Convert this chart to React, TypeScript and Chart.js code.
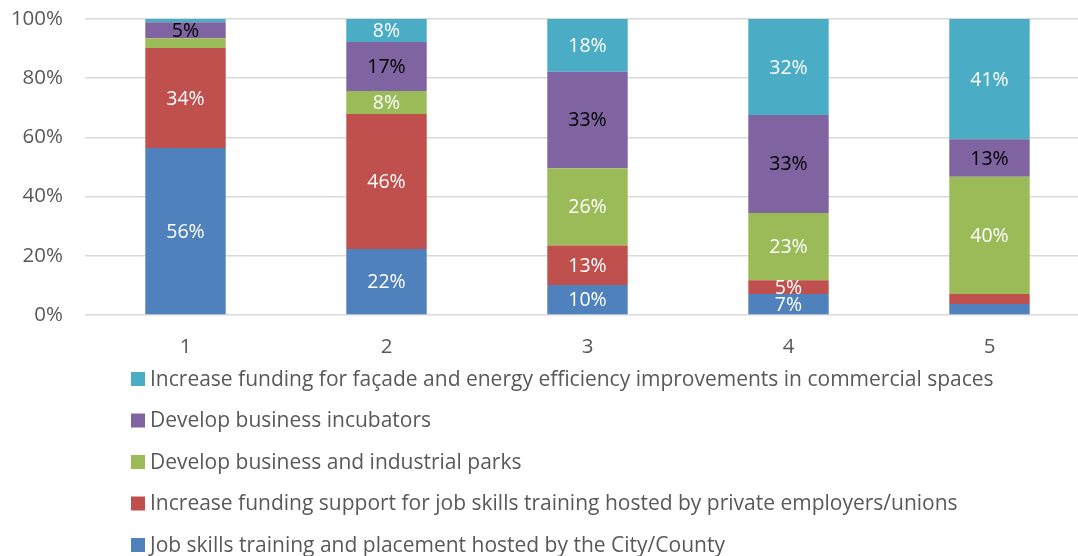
import React, { useEffect, useRef } from "react";
import { Chart, registerables } from "chart.js";

Chart.register(...registerables);

const categories = ["1", "2", "3", "4", "5"];
const jobSkillsCity = [56.4, 22.3, 10.1, 7.1, 3.7];
const fundingPrivate = [33.8, 45.6, 13.4, 4.6, 3.4];
const businessParks = [3.3, 7.8, 26.1, 22.8, 39.6];
const incubators = [5.4, 16.5, 32.6, 33.1, 12.7];
const facade = [1.1, 7.8, 17.8, 32.4, 40.6];
const yTicks = [0, 20, 40, 60, 80, 100];

const seriesNames = [
  "Job skills training and placement hosted by the City/County",
  "Increase funding support for job skills training hosted by private employers/unions",
  "Develop business and industrial parks",
  "Develop business incubators",
  "Increase funding for façade and energy efficiency improvements in commercial spaces",
];
const seriesColors = ["#4F81BD", "#C0504D", "#9BBB59", "#8064A2", "#4BACC6"];
const labelColors = ["#FFFFFF", "#FFFFFF", "#FFFFFF", "#000000", "#FFFFFF"];

const FONT = "'Open Sans', sans-serif";
const TEXT_GRAY = "#595959";

const dataLabelPlugin = {
  id: "dataLabels",
  afterDatasetsDraw(chart: any) {
    const ctx = chart.ctx;
    ctx.save();
    ctx.font = `19.5px ${FONT}`;
    ctx.textAlign = "center";
    ctx.textBaseline = "middle";
    chart.data.datasets.forEach((ds: any, di: number) => {
      const meta = chart.getDatasetMeta(di);
      meta.data.forEach((bar: any, i: number) => {
        const v = ds.data[i];
        if (v < 4) return;
        const y = (bar.y + bar.base) / 2;
        ctx.fillStyle = labelColors[di];
        ctx.fillText(Math.round(v) + "%", bar.x, y + 1);
      });
    });
    ctx.restore();
  },
};

const legendPlugin = {
  id: "stackLegend",
  afterDraw(chart: any) {
    const ctx = chart.ctx;
    ctx.save();
    ctx.font = `21px ${FONT}`;
    ctx.textAlign = "left";
    ctx.textBaseline = "middle";
    const ds = chart.data.datasets;
    const startY = 379;
    const step = 41.5;
    for (let k = 0; k < ds.length; k++) {
      const di = ds.length - 1 - k;
      const y = startY + k * step;
      ctx.fillStyle = ds[di].backgroundColor;
      ctx.fillRect(131, y - 7, 14, 14);
      ctx.fillStyle = TEXT_GRAY;
      ctx.fillText(ds[di].label, 150, y + 1);
    }
    ctx.restore();
  },
};

export default function App() {
  const ref = useRef<HTMLCanvasElement>(null);
  useEffect(() => {
    if (!ref.current) return;
    const seriesData = [jobSkillsCity, fundingPrivate, businessParks, incubators, facade];
    const chart = new Chart(ref.current, {
      type: "bar",
      data: {
        labels: categories,
        datasets: seriesData.map((d, i) => ({
          label: seriesNames[i],
          data: d,
          backgroundColor: seriesColors[i],
          borderWidth: 0,
          barPercentage: 0.4,
          categoryPercentage: 1,
        })),
      },
      options: {
        animation: false,
        responsive: false,
        maintainAspectRatio: false,
        layout: { padding: { top: 19, right: 0, left: 0, bottom: 181 } },
        plugins: { legend: { display: false }, tooltip: { enabled: false } },
        scales: {
          x: {
            stacked: true,
            grid: { display: false },
            border: { display: false },
            ticks: { color: TEXT_GRAY, font: { family: FONT, size: 20.5 }, padding: 12 },
            afterFit: (s: any) => { s.height = 60; },
          },
          y: {
            stacked: true,
            min: 0,
            max: 100,
            afterBuildTicks: (s: any) => { s.ticks = yTicks.map((v) => ({ value: v })); },
            grid: { color: "#D9D9D9", lineWidth: 1.5, drawTicks: false },
            border: { display: false },
            ticks: {
              color: TEXT_GRAY,
              font: { family: FONT, size: 20.5 },
              padding: 22,
              callback: (v: any) => v + "%",
            },
            afterFit: (s: any) => {
              s.width = 85;
              s.paddingTop = 12;
              s.paddingBottom = 12;
            },
          },
        },
      },
      plugins: [dataLabelPlugin, legendPlugin],
    });
    return () => chart.destroy();
  }, []);
  return (
    <div style={{ position: "absolute", left: 0, top: 0, width: 1078, height: 556, overflow: "hidden", background: "#fff" }}>
      <canvas ref={ref} width={1090} height={556} style={{ width: 1090, height: 556, display: "block" }} />
    </div>
  );
}
